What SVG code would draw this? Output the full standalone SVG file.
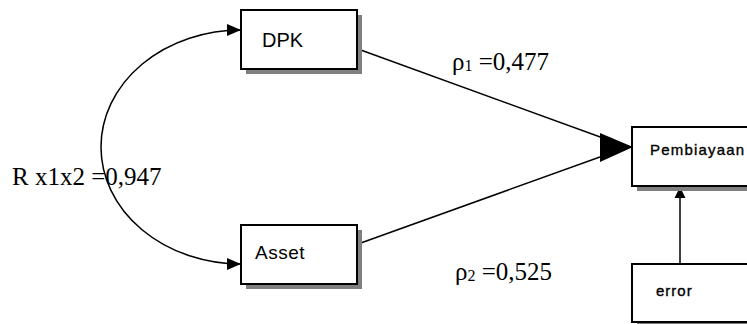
<svg xmlns="http://www.w3.org/2000/svg" width="747" height="324" viewBox="0 0 747 324">
<defs>
<style>
.box{fill:#fff;stroke:#000;stroke-width:2}
.shadow{fill:#808080}
.lbl{font-family:"Liberation Sans",Arial,sans-serif;fill:#000}
.heavy{stroke:#000;stroke-width:0.35}
.coef{font-family:"Liberation Serif","Times New Roman",serif;fill:#000;font-size:25px}
.conn{fill:none;stroke:#000;stroke-width:1.5}
</style>
<marker id="ah" viewBox="0 0 14 12" refX="14" refY="6" markerWidth="14" markerHeight="12" markerUnits="userSpaceOnUse" orient="auto-start-reverse">
<path d="M0,0 L14,6 L0,12 Z" fill="#000"/>
</marker>
</defs>
<rect width="747" height="324" fill="#fff"/>
<g id="connectors">
<path class="conn" d="M241,30 A140,117 0 0 0 241,264" marker-start="url(#ah)" marker-end="url(#ah)"/>
<line class="conn" x1="358" y1="49" x2="625" y2="146"/>
<line class="conn" x1="358" y1="244" x2="625" y2="148"/>
<polygon points="600,133 633,147 600,162" fill="#000"/>
<line class="conn" x1="680" y1="264" x2="680" y2="198" stroke-width="2"/>
<polygon points="674.5,198 680,187 685.5,198" fill="#000"/>
</g>
<g id="node-dpk">
<rect class="shadow" x="246" y="15" width="116" height="59"/>
<rect class="box" x="241" y="10" width="116" height="59"/>
<text class="lbl" x="262" y="47" font-size="20">DPK</text>
</g>
<g id="node-asset">
<rect class="shadow" x="246" y="230" width="116" height="59"/>
<rect class="box" x="241" y="225" width="116" height="59"/>
<text class="lbl" x="255" y="259" font-size="19" letter-spacing="0.5">Asset</text>
</g>
<g id="node-pembiayaan">
<rect class="shadow" x="637" y="132" width="130" height="59"/>
<rect class="box" x="632" y="127" width="130" height="59"/>
<text class="lbl heavy" x="650" y="155" font-size="15" letter-spacing="1.2">Pembiayaan</text>
</g>
<g id="node-error">
<rect class="shadow" x="637" y="269" width="130" height="59"/>
<rect class="box" x="632" y="264" width="130" height="58"/>
<text class="lbl heavy" x="656" y="296" font-size="15" letter-spacing="1">error</text>
</g>
<g id="labels">
<text class="coef" x="12" y="185" font-size="26">R x1x2 =0,947</text>
<text class="coef" x="452" y="70">ρ<tspan font-size="16" dy="1">1</tspan><tspan dy="-1"> =0,477</tspan></text>
<text class="coef" x="455" y="280">ρ<tspan font-size="16" dy="1">2</tspan><tspan dy="-1"> =0,525</tspan></text>
</g>
</svg>
